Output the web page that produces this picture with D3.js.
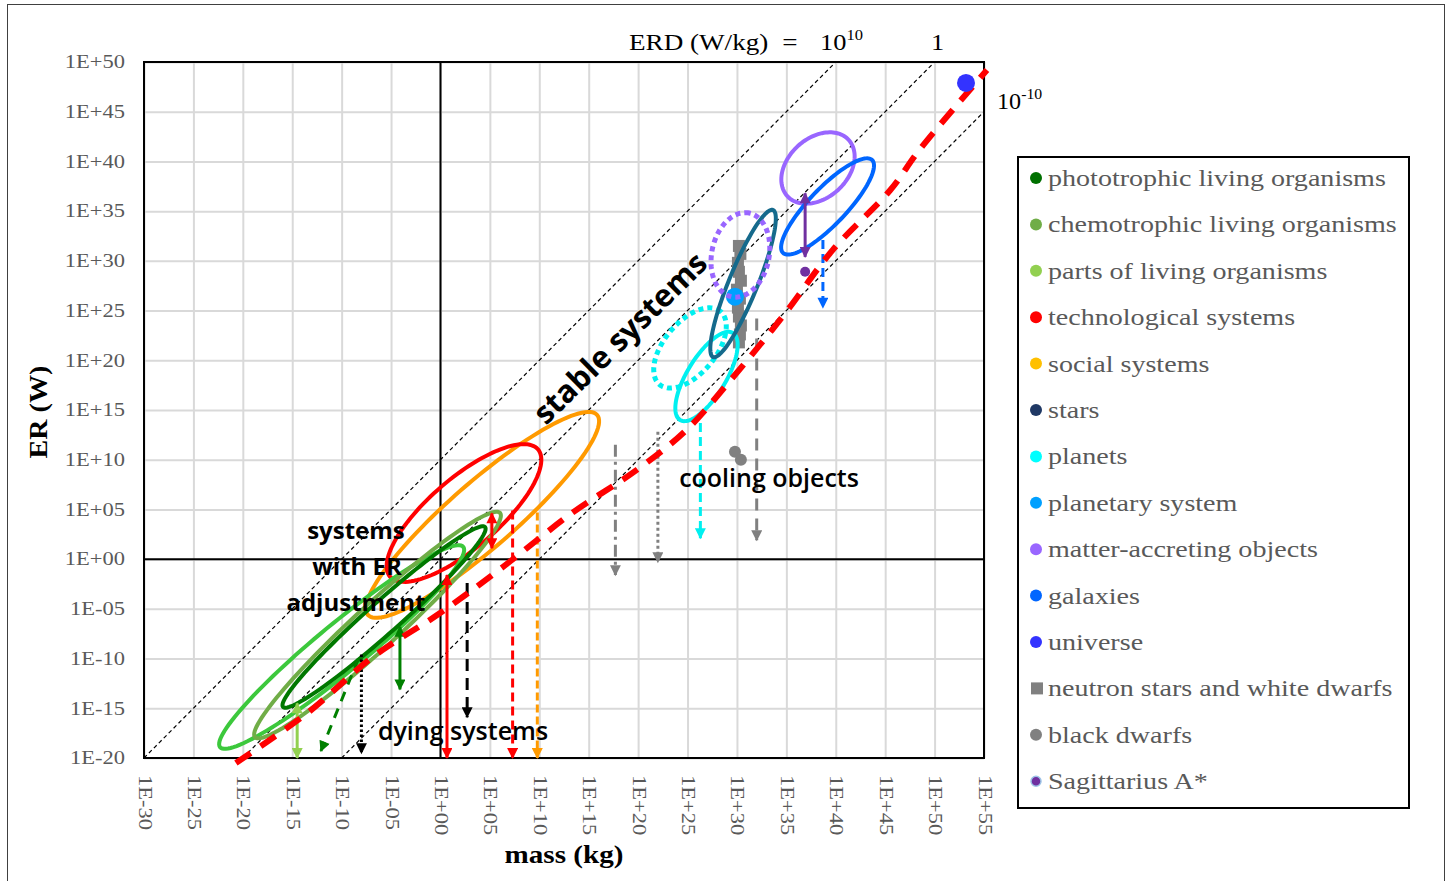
<!DOCTYPE html>
<html>
<head>
<meta charset="utf-8">
<script src="https://cdn.jsdelivr.net/npm/d3@7"></script>
<style>
  body { margin: 0; background: #fff; }
</style>
</head>
<body>
<svg id="chart" width="1449" height="881"></svg>
<script>
// axis ticks are powers of ten (exponents)
var xTicks = d3.range(-30, 56, 5);
var yTicks = d3.range(-20, 51, 5);
var erdLevels = [10, 0, -10];

// red dashed boundary, log10 mass vs log10 ER
var boundaryMass = [-20.7, -13.5, -6.8, 0, 6.3, 13.4, 19.9, 24.9, 29.6, 34.7, 39.7, 45.5, 48.5, 55.3];
var boundaryER   = [-20.5, -15.5, -9.8, -5.4, -0.8, 4.7, 9.0, 13.0, 18.3, 24.5, 31.1, 37.1, 41.2, 49.2];

// ellipses: centre, semi axes (decades) and tilt
var ellipseKeys  = ["social", "tech", "bright", "chemo", "photo", "planetsDot", "planets", "stars", "accreting", "galaxies", "accretingDot"];
var ellipseMass  = [4.25, 2.38, -10.0, -6.37, -5.71, 25.25, 26.92, 30.62, 38.2, 39.17, 30.35];
var ellipseER    = [4.45, 4.64, -8.84, -6.63, -5.82, 21.24, 18.37, 27.72, 39.34, 35.47, 30.6];
var ellipseMajor = [15.35, 9.85, 15.9, 16.76, 13.65, 4.8, 5.13, 7.99, 4.2, 6.49, 4.3];
var ellipseMinor = [3.3, 3.5, 2.4, 2.2, 1.6, 2.6, 1.95, 1.45, 3.0, 1.85, 2.9];
var ellipseTilt  = [40.9, 40.5, 39.3, 42.3, 41.5, 50, 58.5, 67.7, 42, 46, 78];

// vertical arrows
var arrowKinds    = ["lightGreen2", "greenDash", "blackDot", "green2", "red2", "blackDash", "red2", "redDash", "orangeDash", "grayDashDot", "grayDot", "cyanDash", "grayDash", "purple2", "blueDash"];
var arrowMass0    = [-14.5, -8.3, -8.0, -4.1, 0.66, 2.7, 5.2, 7.3, 9.8, 17.7, 22.0, 26.3, 32.0, 36.9, 38.7];
var arrowER0      = [-14.5, -10.0, -9.6, -6.8, -1.6, -2.4, 4.6, 4.9, 4.7, 11.5, 12.8, 13.7, 24.2, 36.8, 32.1];
var arrowMass1    = [-14.5, -12.1, -8.0, -4.1, 0.66, 2.7, 5.2, 7.3, 9.8, 17.7, 22.0, 26.3, 32.0, 36.9, 38.7];
var arrowER1      = [-20.0, -19.3, -19.5, -13.1, -20.0, -15.9, 1.1, -20.0, -20.0, -1.6, -0.3, 2.1, 1.9, 30.4, 25.3];

// single objects
var dotNames = ["universe", "planetary", "sgrA", "blackDwarf", "blackDwarf"];
var dotMass  = [53.18, 29.8, 36.9, 29.8, 30.4];
var dotER    = [47.9, 26.4, 28.9, 10.8, 10.0];
var neutronMass = [30.2, 30.35, 30.1, 30.2, 30.4, 30.0, 30.3, 30.1, 30.2, 30.4, 30.3, 30.2];
var neutronER   = [31.5, 30.7, 29.8, 28.9, 28.0, 27.1, 26.2, 25.3, 24.4, 23.5, 22.6, 21.8];

// annotations
var noteTexts = ["systems", "with ER", "adjustment", "dying systems", "cooling objects"];
var noteMass  = [-8.55, -8.45, -8.55, 2.28, 33.25];
var noteER    = [2.83, -0.79, -4.4, -17.3, 8.16];

var legendNames = ["phototrophic living organisms", "chemotrophic living organisms", "parts of living organisms",
  "technological systems", "social systems", "stars", "planets", "planetary system", "matter-accreting objects",
  "galaxies", "universe", "neutron stars and white dwarfs", "black dwarfs", "Sagittarius A*"];
var legendColors = ["#007000", "#70AD47", "#92D050", "#FF0000", "#FFC000", "#1F3864", "#00FFFF", "#00A0FF",
  "#9966FF", "#0066FF", "#3333FF", "#808080", "#808080", "#7030A0"];

var ellipseStyle = {
  social: {c: "#FF9A00", w: 4}, tech: {c: "#FF0000", w: 4}, bright: {c: "#3CC83C", w: 4},
  chemo: {c: "#70AD47", w: 4}, photo: {c: "#007800", w: 4}, planetsDot: {c: "#00F0F0", w: 5, d: "5,4"},
  planets: {c: "#00F0F0", w: 4}, stars: {c: "#156A8C", w: 4}, accreting: {c: "#9966FF", w: 4},
  galaxies: {c: "#0066FF", w: 4}, accretingDot: {c: "#9966FF", w: 5, d: "5,4"}
};
var arrowStyle = {
  lightGreen2: {c: "#92D050", d: null, both: true}, greenDash: {c: "#008000", d: "10,8"},
  blackDot: {c: "#000", d: "2.5,2.5"}, green2: {c: "#008000", d: null, both: true},
  red2: {c: "#FF0000", d: null, both: true}, blackDash: {c: "#000", d: "12,7"},
  redDash: {c: "#FF0000", d: "9,5"}, orangeDash: {c: "#FF9A00", d: "8,4"},
  grayDashDot: {c: "#808080", d: "12,5,3,5"}, grayDot: {c: "#808080", d: "3,3"},
  cyanDash: {c: "#00F0F0", d: "9,5"}, grayDash: {c: "#808080", d: "12,8"},
  purple2: {c: "#7030A0", d: null, both: true}, blueDash: {c: "#0066FF", d: "9,5"}
};

var SERIF = "'Liberation Serif','Times New Roman',serif";
var SANS = "'Open Sans','Liberation Sans',sans-serif";

var plot = {left: 144, top: 62, right: 984, bottom: 758};
var x = d3.scaleLinear().domain([-30, 55]).range([plot.left, plot.right]);
var y = d3.scaleLinear().domain([-20, 50]).range([plot.bottom, plot.top]);

var svg = d3.select("#chart");
var defs = svg.append("defs");

function expFormat(e) {
  var s = Math.abs(e) < 10 ? "0" + Math.abs(e) : "" + Math.abs(e);
  return "1E" + (e < 0 ? "-" : "+") + s;
}

// outer frame of the figure
svg.append("rect").attr("x", 7.5).attr("y", 4.5).attr("width", 1437).attr("height", 880)
  .attr("fill", "none").attr("stroke", "#404040").attr("stroke-width", 1);

// axes with grid
var xAxis = d3.axisBottom(x).tickValues(xTicks).tickSize(-(plot.bottom - plot.top)).tickFormat(expFormat);
var yAxis = d3.axisLeft(y).tickValues(yTicks).tickSize(-(plot.right - plot.left)).tickFormat(expFormat);

var gx = svg.append("g").attr("transform", "translate(0," + plot.bottom + ")").call(xAxis);
var gy = svg.append("g").attr("transform", "translate(" + plot.left + ",0)").call(yAxis);
[gx, gy].forEach(function (g) {
  g.select(".domain").remove();
  g.selectAll(".tick line").attr("stroke", "#D9D9D9").attr("stroke-width", 2);
  g.selectAll(".tick text").attr("font-family", SERIF).attr("font-size", 18).attr("fill", "#595959");
});
gx.selectAll(".tick text").attr("x", 13.6).attr("y", 0).attr("dy", "0.33em")
  .attr("text-anchor", "start").attr("transform", "rotate(90) scale(1.25,1)");
gy.selectAll(".tick text").attr("x", 0).attr("transform", "translate(-19,0) scale(1.25,1)");

// ERD reference lines: log ER = log m + k
var erdG = svg.append("g");
erdLevels.forEach(function (k) {
  var m0 = Math.max(-30, -20 - k), m1 = Math.min(55, 50 - k);
  erdG.append("line")
    .attr("x1", x(m0)).attr("y1", y(m0 + k)).attr("x2", x(m1)).attr("y2", y(m1 + k))
    .attr("stroke", "#000").attr("stroke-width", 1.2).attr("stroke-dasharray", "4,3");
});

// zero lines and plot frame
svg.append("line").attr("x1", x(0)).attr("x2", x(0)).attr("y1", plot.top).attr("y2", plot.bottom)
  .attr("stroke", "#000").attr("stroke-width", 2);
svg.append("line").attr("x1", plot.left).attr("x2", plot.right).attr("y1", y(0)).attr("y2", y(0))
  .attr("stroke", "#000").attr("stroke-width", 2);
svg.append("rect").attr("x", plot.left).attr("y", plot.top)
  .attr("width", plot.right - plot.left).attr("height", plot.bottom - plot.top)
  .attr("fill", "none").attr("stroke", "#000").attr("stroke-width", 2);

// neutron stars and white dwarfs
svg.append("g").selectAll("rect").data(neutronMass).join("rect")
  .attr("x", function (d) { return x(d) - 6; })
  .attr("y", function (d, i) { return y(neutronER[i]) - 6; })
  .attr("width", 12).attr("height", 12).attr("fill", "#808080");

// ellipses
var ellipseLine = d3.line().x(function (p) { return x(p[0]); }).y(function (p) { return y(p[1]); })
  .curve(d3.curveLinearClosed);
function ellipsePts(i) {
  var t = ellipseTilt[i] * Math.PI / 180, a = ellipseMajor[i], b = ellipseMinor[i];
  return d3.range(0, 360, 3).map(function (s) {
    var u = s * Math.PI / 180;
    return [ellipseMass[i] + a * Math.cos(t) * Math.cos(u) - b * Math.sin(t) * Math.sin(u),
            ellipseER[i] + a * Math.sin(t) * Math.cos(u) + b * Math.cos(t) * Math.sin(u)];
  });
}
function drawEllipse(i) {
  var st = ellipseStyle[ellipseKeys[i]];
  svg.append("path").attr("d", ellipseLine(ellipsePts(i)))
    .attr("fill", "none").attr("stroke", st.c).attr("stroke-width", st.w)
    .attr("stroke-dasharray", st.d || null);
}
ellipseKeys.forEach(function (k, i) { if (k !== "accretingDot") drawEllipse(i); });

// planetary system dot sits under the dotted accreting ellipse
svg.append("circle").attr("cx", x(dotMass[1])).attr("cy", y(dotER[1])).attr("r", 9).attr("fill", "#00A0FF");
drawEllipse(ellipseKeys.indexOf("accretingDot"));

// arrows
var markerIds = {};
function markerFor(color) {
  if (markerIds[color]) return markerIds[color];
  var id = "head" + Object.keys(markerIds).length;
  defs.append("marker").attr("id", id).attr("viewBox", "0 0 10 10")
    .attr("refX", 9).attr("refY", 5).attr("markerUnits", "userSpaceOnUse")
    .attr("markerWidth", 12).attr("markerHeight", 11).attr("orient", "auto-start-reverse")
    .append("path").attr("d", "M0,0L10,5L0,10z").attr("fill", color);
  markerIds[color] = id;
  return id;
}
arrowKinds.forEach(function (kind, i) {
  var st = arrowStyle[kind];
  var id = markerFor(st.c);
  svg.append("line")
    .attr("x1", x(arrowMass0[i])).attr("y1", y(arrowER0[i]))
    .attr("x2", x(arrowMass1[i])).attr("y2", y(arrowER1[i]))
    .attr("stroke", st.c).attr("stroke-width", 3)
    .attr("stroke-dasharray", st.d)
    .attr("marker-end", "url(#" + id + ")")
    .attr("marker-start", st.both ? "url(#" + id + ")" : null);
});

// boundary curve
var boundary = boundaryMass.map(function (m, i) { return [m, boundaryER[i]]; });
svg.append("path")
  .attr("d", d3.line().x(function (p) { return x(p[0]); }).y(function (p) { return y(p[1]); })
    .curve(d3.curveCatmullRom)(boundary))
  .attr("fill", "none").attr("stroke", "#FF0000").attr("stroke-width", 6)
  .attr("stroke-dasharray", "18,12");

// remaining single objects
svg.append("circle").attr("cx", x(dotMass[0])).attr("cy", y(dotER[0])).attr("r", 9).attr("fill", "#3333FF");
svg.append("circle").attr("cx", x(dotMass[2])).attr("cy", y(dotER[2])).attr("r", 5).attr("fill", "#7030A0");
[3, 4].forEach(function (i) {
  svg.append("circle").attr("cx", x(dotMass[i])).attr("cy", y(dotER[i])).attr("r", 6).attr("fill", "#808080");
});

// annotations
noteTexts.forEach(function (t, i) {
  var bold = i < 3;
  svg.append("text").attr("x", x(noteMass[i])).attr("y", y(noteER[i])).attr("dy", "0.35em")
    .attr("text-anchor", "middle").attr("font-family", SANS)
    .attr("font-size", bold ? 24 : 25).attr("font-weight", bold ? "bold" : 600)
    .attr("fill", "#000").text(t);
});
svg.append("text")
  .attr("transform", "translate(" + x(18.17) + "," + y(22.24) + ") rotate(-44.5)")
  .attr("dy", "0.35em").attr("text-anchor", "middle").attr("font-family", SANS)
  .attr("font-size", 31).attr("font-weight", "bold").attr("fill", "#000").text("stable systems");

// serif labels with the wide look of the original font
function serif(px, py, str, size, anchor, weight, sx, rot) {
  return svg.append("text")
    .attr("transform", "translate(" + px + "," + py + ")" + (rot ? " rotate(" + rot + ")" : "") + " scale(" + sx + ",1)")
    .attr("text-anchor", anchor).attr("font-family", SERIF).attr("font-size", size)
    .attr("font-weight", weight).attr("fill", "#000").text(str);
}
serif(629, 50, "ERD (W/kg)", 24, "start", "normal", 1.13);
serif(790, 50, "=", 24, "middle", "normal", 1.13);
var t10 = serif(820, 50, "10", 24, "start", "normal", 1.1);
t10.append("tspan").attr("font-size", 15).attr("dy", -10).text("10");
serif(x(50) + 3, 50, "1", 24, "middle", "normal", 1.1);
var tm10 = serif(997, 109, "10", 23, "start", "normal", 1.05);
tm10.append("tspan").attr("font-size", 15).attr("dy", -10).text("-10");

serif((plot.left + plot.right) / 2, 863, "mass (kg)", 26, "middle", "bold", 1.12);
serif(47, (plot.top + plot.bottom) / 2 + 2, "ER (W)", 26, "middle", "bold", 1.08, -90);

// legend
var legend = svg.append("g");
legend.append("rect").attr("x", 1018).attr("y", 157).attr("width", 391).attr("height", 651)
  .attr("fill", "#fff").attr("stroke", "#000").attr("stroke-width", 2);
legendNames.forEach(function (name, i) {
  var ly = 178 + i * 46.4;
  if (i === 11) {
    legend.append("rect").attr("x", 1031).attr("y", ly - 6).attr("width", 12).attr("height", 12).attr("fill", legendColors[i]);
  } else {
    legend.append("circle").attr("cx", 1036).attr("cy", ly).attr("r", i === 13 ? 5 : 6)
      .attr("fill", legendColors[i])
      .attr("stroke", i === 13 ? "#9DC3E6" : null).attr("stroke-width", i === 13 ? 1.5 : null);
  }
  legend.append("text").attr("transform", "translate(1048," + ly + ") scale(1.17,1)")
    .attr("dy", "0.33em").attr("font-family", SERIF).attr("font-size", 24).attr("fill", "#595959")
    .text(name);
});
</script>
</body>
</html>
